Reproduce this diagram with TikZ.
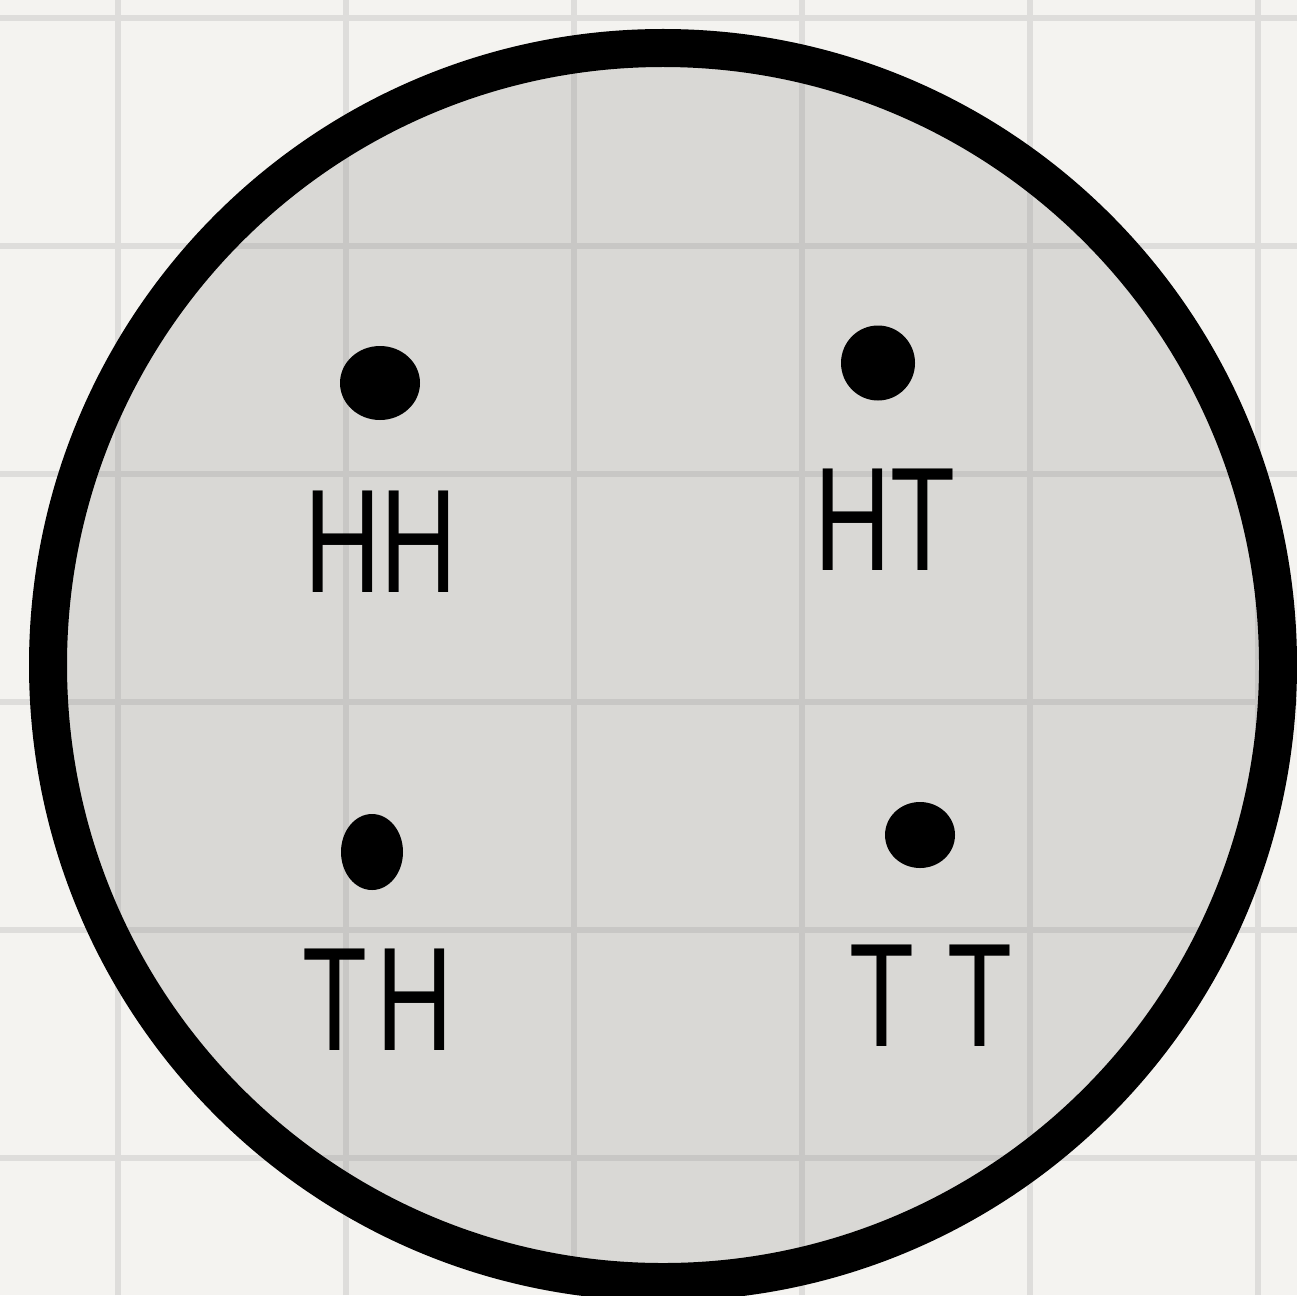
\documentclass[tikz,border=0pt]{standalone}
\usepackage{fontspec}
\setmainfont{Liberation Sans}
\usetikzlibrary{shapes.geometric}
\definecolor{paper}{HTML}{F4F3F0}
\definecolor{gridout}{HTML}{DEDDDB}
\definecolor{disc}{HTML}{D9D8D5}
\definecolor{gridin}{HTML}{C8C7C5}
\tikzset{
  gridline/.style={line width=0.06cm},
  dot/.style={ellipse, fill=black, inner sep=0pt},
  lbl/.style={font=\fontsize{42}{42}\selectfont, text=black, inner sep=0pt},
}
\newcommand{\narrow}[1]{\scalebox{0.72}[1]{#1}}
\begin{document}
\begin{tikzpicture}
\useasboundingbox (0,0) rectangle (12.97,12.95);
\fill[paper] (0,0) rectangle (12.97,12.95);
% grid outside
\foreach \x in {1.18,3.46,5.74,8.02,10.30,12.58}
  \draw[gridline, gridout] (\x,0) -- (\x,12.95);
\foreach \y in {12.77,10.49,8.21,5.93,3.65,1.37}
  \draw[gridline, gridout] (0,\y) -- (12.97,\y);
% disc
\fill[disc] (6.63,6.30) ellipse [x radius=6.15, y radius=6.17];
\begin{scope}
  \clip (6.63,6.30) ellipse [x radius=6.15, y radius=6.17];
  \foreach \x in {1.18,3.46,5.74,8.02,10.30,12.58}
    \draw[gridline, gridin] (\x,0) -- (\x,12.95);
  \foreach \y in {12.77,10.49,8.21,5.93,3.65,1.37}
    \draw[gridline, gridin] (0,\y) -- (12.97,\y);
\end{scope}
\draw[line width=0.38cm, black] (6.63,6.30) ellipse [x radius=6.15, y radius=6.17];
% outcomes
\node[dot, minimum width=0.80cm, minimum height=0.74cm] (dHH) at (3.80,9.12) {};
\node[dot, minimum width=0.74cm, minimum height=0.75cm] (dHT) at (8.78,9.32) {};
\node[dot, minimum width=0.62cm, minimum height=0.76cm] (dTH) at (3.72,4.43) {};
\node[dot, minimum width=0.70cm, minimum height=0.66cm] (dTT) at (9.20,4.60) {};
\node[lbl] (lHH) at (3.81,7.53) {\narrow{HH}};
\node[lbl] (lHT) at (8.85,7.75) {\narrow{HT}};
\node[lbl] (lTH) at (3.78,2.95) {\narrow{T\hspace{0.12cm}H}};
\node[lbl] (lTT) at (9.31,2.99) {\narrow{T\hspace{0.45cm}T}};
\end{tikzpicture}
\end{document}
